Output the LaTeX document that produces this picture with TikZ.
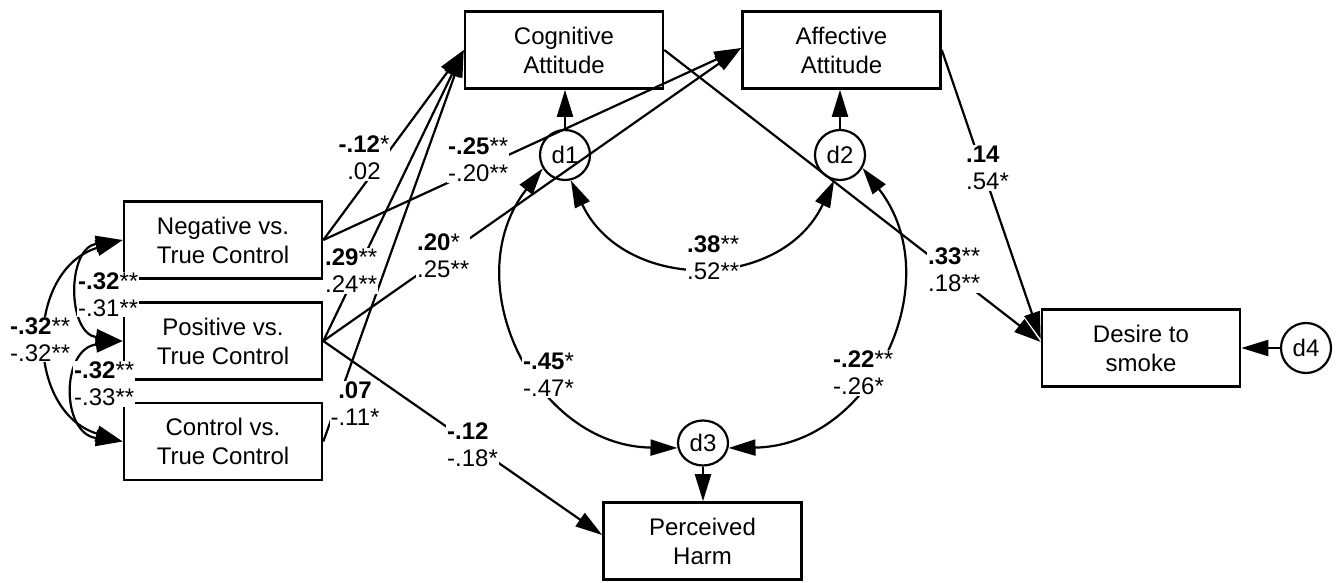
\documentclass[tikz,border=0pt]{standalone}
\usepackage{fontspec}
\setmainfont{Liberation Sans}
\usetikzlibrary{arrows.meta,shapes.geometric}
\begin{document}
\begin{tikzpicture}[x=1pt,y=-1pt,
  varbox/.style={draw,line width=2.6pt,minimum width=198pt,minimum height=77pt,inner sep=0pt,align=center,font=\fontsize{24}{29}\selectfont},
  err/.style={draw,circle,line width=2.2pt,minimum size=50pt,inner sep=0pt,font=\fontsize{24}{29}\selectfont},
  arr/.style={line width=2.2pt,-{Triangle[length=27pt,width=16pt]}},
  cov/.style={line width=2.2pt,{Triangle[length=27pt,width=16pt]}-{Triangle[length=27pt,width=16pt]}},
  lab/.style={fill=white,inner sep=1pt,align=left,anchor=west,font=\fontsize{24}{27}\selectfont},
  labc/.style={lab,align=center,anchor=center},
]
\useasboundingbox (0,0) rectangle (1342,583);
% variables
\node[varbox] (neg) at (223,240) {Negative vs.\\True Control};
\node[varbox] (pos) at (223,341) {Positive vs.\\True Control};
\node[varbox] (con) at (223,441.5) {Control vs.\\True Control};
\node[varbox] (cog) at (564,50) {Cognitive\\Attitude};
\node[varbox] (aff) at (841.5,50) {Affective\\Attitude};
\node[varbox] (des) at (1141,348) {Desire to\\smoke};
\node[varbox] (per) at (702.5,541) {Perceived\\Harm};
% disturbances
\node[err] (d1) at (565,155) {d1};
\node[err] (d2) at (840,155) {d2};
\node[err,ellipse,minimum width=50pt,minimum height=45pt] (d3) at (703,443) {d3};
\node[err] (d4) at (1306,348) {d4};
% paths
\draw[arr] (neg.east) -- (cog.west);
\draw[arr] (neg.east) -- ([yshift=2pt]aff.west);
\draw[arr] (pos.east) -- (cog.west);
\draw[arr] (pos.east) -- ([yshift=2pt]aff.west);
\draw[arr] (con.east) -- (cog.west);
\draw[arr] (pos.east) -- ([yshift=6pt]per.west);
\draw[arr] (cog.east) -- ([yshift=6pt]des.west);
\draw[arr] (aff.east) -- ([yshift=9pt]des.west);
\draw[arr] (d1.north) -- (d1.north |- cog.south);
\draw[arr] (d2.north) -- (d2.north |- aff.south);
\draw[arr] (d3.south) -- (d3.south |- per.north);
\draw[arr] (d4.west) -- (d4.west -| des.east);
% covariances
\draw[cov] (neg.west) .. controls +(-98,30) and +(-98,-30) .. (con.west);
\draw[cov] (neg.west) .. controls +(-56,8) and +(-56,-8) .. (pos.west);
\draw[cov] (pos.west) .. controls +(-62,8) and +(-62,-8) .. (con.west);
\draw[cov] (d1.283) .. controls +(53,112) and +(-53,112) .. (d2.257);
\draw[cov] (d1.211) .. controls +(-88,113) and +(-143,-2) .. (d3.191);
\draw[cov] (d2.330) .. controls +(88,113) and +(143,-2) .. (d3.349);
% labels
\node[labc] (l1) at (364,158) {\textbf{-.12}*\\.02};
\node[lab] (l2) at (447,160) {\textbf{-.25}**\\-.20**};
\node[lab] (l3) at (324,271) {\textbf{.29}**\\.24**};
\node[lab] (l4) at (416,256) {\textbf{.20}*\\.25**};
\node[labc] (l5) at (355,404) {\textbf{.07}\\-.11*};
\node[lab] (l6) at (446,445) {\textbf{-.12}\\-.18*};
\node[lab] (l7) at (927,270) {\textbf{.33}**\\.18**};
\node[lab] (l8) at (965,168) {\textbf{.14}\\.54*};
\node[lab] (l9) at (686,258) {\textbf{.38}**\\.52**};
\node[lab] (l10) at (522,375) {\textbf{-.45}*\\-.47*};
\node[lab] (l11) at (832,373) {\textbf{-.22}**\\-.26*};
\node[lab] (l12) at (77,294.5) {\textbf{-.32}**\\-.31**};
\node[lab] (l13) at (9,339.5) {\textbf{-.32}**\\-.32**};
\node[lab] (l14) at (73,384) {\textbf{-.32}**\\-.33**};
\end{tikzpicture}
\end{document}
